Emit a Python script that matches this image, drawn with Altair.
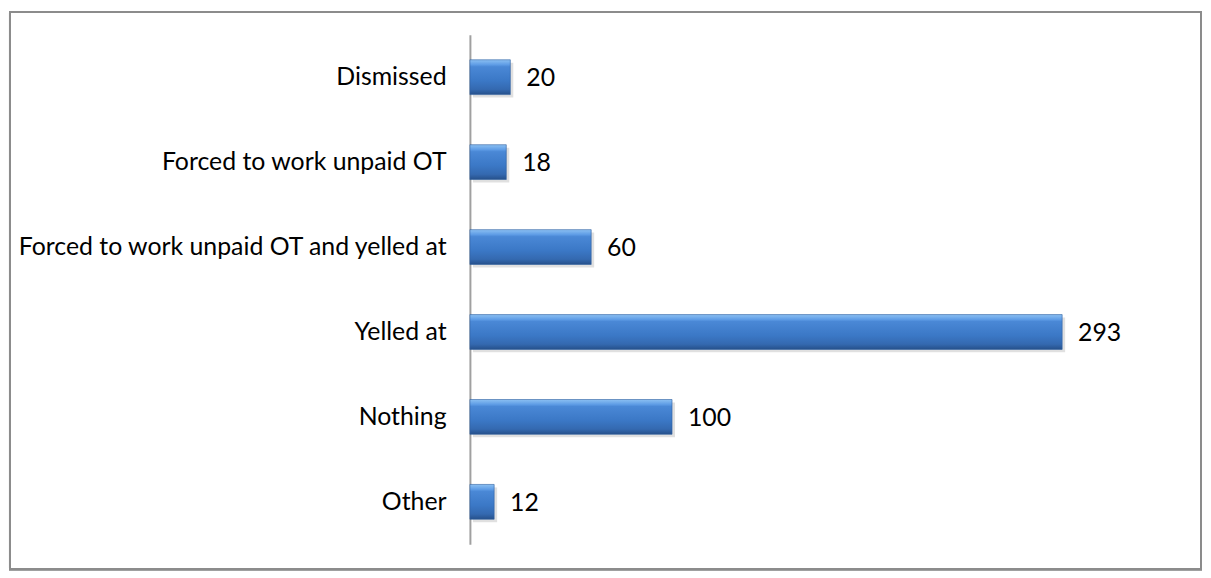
import altair as alt
import pandas as pd

categories = ["Dismissed", "Forced to work unpaid OT", "Forced to work unpaid OT and yelled at",
              "Yelled at", "Nothing", "Other"]
values = [20, 18, 60, 293, 100, 12]

df = pd.DataFrame({"category": categories, "value": values})

FONT = "Lato"
FS = 25

grad = alt.Gradient(
    gradient="linear", x1=0, x2=0, y1=0, y2=1,
    stops=[
        alt.GradientStop(offset=0.0, color="#8cc0f2"),
        alt.GradientStop(offset=0.14, color="#5f9de6"),
        alt.GradientStop(offset=0.2, color="#4a88d6"),
        alt.GradientStop(offset=0.6, color="#3b78c6"),
        alt.GradientStop(offset=0.85, color="#3469b0"),
        alt.GradientStop(offset=1.0, color="#26508a"),
    ],
)

y_enc = alt.Y("category:N", sort=categories, title=None,
              scale=alt.Scale(paddingInner=0.59, paddingOuter=0.295),
              axis=alt.Axis(domainColor="#a0a0a0", domainWidth=2, ticks=False,
                            labelFont=FONT, labelFontSize=FS, labelColor="#000000",
                            labelPadding=24, labelLimit=460, grid=False))
x_enc = alt.X("value:Q", title=None, scale=alt.Scale(domain=[0, 344], nice=False), axis=None)

shadow = alt.Chart(df).mark_bar(color="#000000", opacity=0.12, yOffset=3, xOffset=3).encode(
    x=x_enc, y=y_enc)

bars = alt.Chart(df).mark_bar(fill=grad, stroke="#2e5f9e", strokeWidth=0.6).encode(
    x=x_enc, y=y_enc)

labels = alt.Chart(df).mark_text(align="left", baseline="middle", dx=16, dy=1,
                                 font=FONT, fontSize=FS, color="#000000").encode(
    x=x_enc, y=y_enc, text="value:Q")

border = alt.Chart(df).mark_rect(fill=None, stroke="#8c8c8c", strokeWidth=2).encode(
    x=alt.value(-463), x2=alt.value(736), y=alt.value(-23), y2=alt.value(538))

chart = alt.layer(border, shadow, bars, labels).properties(
    width=700, height=513,
    autosize=alt.AutoSizeParams(type="none"),
    padding={"left": 465, "top": 25, "right": 38, "bottom": 30},
).configure(background="white", view=alt.ViewConfig(stroke="transparent", strokeWidth=0))

chart.save("out.html", embed_options={"renderer": "svg", "actions": False})
